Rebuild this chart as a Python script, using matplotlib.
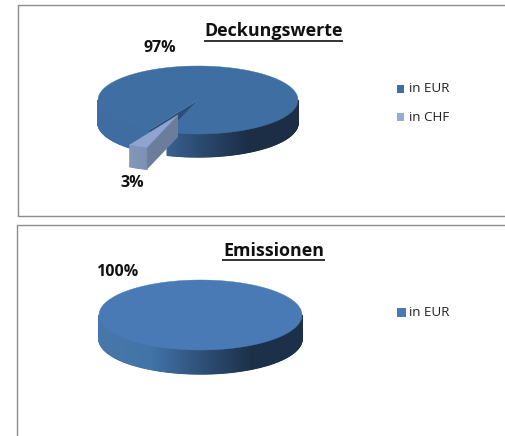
import matplotlib
matplotlib.use('Agg')
import matplotlib.pyplot as plt
import matplotlib.colors as mc
from matplotlib.patches import Polygon, Rectangle
import numpy as np

# dati dei due grafici
deck_labels = ['in EUR', 'in CHF']
deck_values = [97, 3]
emis_labels = ['in EUR']
emis_values = [100]

plt.rcParams['font.family'] = ['Open Sans', 'DejaVu Sans']


def ell(cx, cy, rx, ry, t):
    t = np.radians(t)
    return cx + rx * np.cos(t), cy + ry * np.sin(t)


def side(ax, cx, cy, rx, ry, depth, t0, t1, cmap, z):
    # parete laterale a strisce per simulare il gradiente del 3D di Excel
    ts = np.linspace(t0, t1, max(int(abs(t1 - t0)) * 2, 2) + 1)
    for a, b in zip(ts[:-1], ts[1:]):
        x0, y0 = ell(cx, cy, rx, ry, a)
        x1, y1 = ell(cx, cy, rx, ry, b)
        c = cmap(x0 / 2 + x1 / 2)
        ax.add_patch(Polygon([(x0, y0), (x1, y1), (x1, y1 + depth), (x0, y0 + depth)],
                             fc=c, ec=c, lw=0.9, zorder=z))


def top(ax, cx, cy, rx, ry, t0, t1, color, z):
    ts = np.linspace(t0, t1, 200)
    x, y = ell(cx, cy, rx, ry, ts)
    pts = list(zip(x, y))
    if abs(t1 - t0) < 360:
        pts = [(cx, cy)] + pts
    ax.add_patch(Polygon(pts, fc=color, ec=color, lw=0.3, zorder=z))


def title(ax, txt, xc, y, x0, x1, yline):
    ax.text(xc, y, txt, ha='center', va='center', fontsize=12.9, fontweight='bold', color='#111111')
    ax.plot([x0, x1], [yline, yline], color='#111111', lw=1.2, solid_capstyle='butt')


def legend(ax, labels, colors, x, ys, size):
    for lab, col, y in zip(labels, colors, ys):
        ax.add_patch(Rectangle((x, y - size / 2), size, size, fc=col, ec='none'))
        ax.text(409, y, lab, ha='left', va='center', fontsize=9.6, color='#222222')


fig = plt.figure(figsize=(5.06, 4.36), dpi=100, facecolor='white')
ax = fig.add_axes([0, 0, 1, 1])
ax.set_xlim(0, 506)
ax.set_ylim(436, 0)
ax.axis('off')

# cornici
ax.plot([506, 18, 18, 506], [5, 5, 216, 216], color='#8c8c8c', lw=1)
ax.plot([506, 17, 17], [225, 225, 436], color='#8c8c8c', lw=1)

# --- Deckungswerte ---
cx, cy, rx, ry, d = 198, 100, 100, 34, 23
side_map = mc.LinearSegmentedColormap.from_list('s', ['#3f6da2', '#3f6da2', '#2c4b72', '#1b2e46', '#1b2e46'])
cm1 = lambda x: side_map((x - 98) / 200)

t_start = 108
t_end = t_start + deck_values[1] / sum(deck_values) * 360

side(ax, cx, cy, rx, ry, d, 0, t_start, cm1, 1)
side(ax, cx, cy, rx, ry, d, t_end, 180, cm1, 1)
xe, ye = ell(cx, cy, rx, ry, t_end)
ax.add_patch(Polygon([(cx, cy), (xe, ye), (xe, ye + d), (cx, cy + d)], fc='#2c4d75', ec='none', zorder=2))
top(ax, cx, cy, rx, ry, t_end, t_start + 360, '#3f6ea3', 3)

# fetta CHF staccata
ox, oy = -20, 15
sx, sy = cx + ox, cy + oy
sd = 22
sl_map = mc.LinearSegmentedColormap.from_list('c', ['#8397bb', '#7d90b2'])
side(ax, sx, sy, rx, ry, sd, t_start, t_end, lambda x: sl_map((x - 128) / 20), 4)
xa, ya = ell(sx, sy, rx, ry, t_start)
ax.add_patch(Polygon([(sx, sy), (xa, ya), (xa, ya + sd), (sx, sy + sd)], fc='#6c7d9b', ec='none', zorder=4))
top(ax, sx, sy, rx, ry, t_start, t_end, '#8fa4d0', 5)

ax.text(160, 48, '97%', ha='center', va='center', fontsize=11.5, fontweight='bold', color='#111111')
ax.text(132, 183, '3%', ha='center', va='center', fontsize=11.5, fontweight='bold', color='#111111')
title(ax, 'Deckungswerte', 273.5, 30.5, 204, 343, 41)
legend(ax, deck_labels, ['#3f6ea3', '#98a9d3'], 397, [89, 117], 7.5)

# --- Emissionen ---
cx2, cy2, rx2, ry2, d2 = 200.5, 315, 101.5, 35, 24
side_map2 = mc.LinearSegmentedColormap.from_list('s2', ['#4776aa', '#4274a8', '#2f5078', '#1c3049', '#1c3049'])
cm2 = lambda x: side_map2((x - 99) / 203)
side(ax, cx2, cy2, rx2, ry2, d2, 0, 180, cm2, 1)
top(ax, cx2, cy2, rx2, ry2, 0, 360, '#4a7ab5', 3)

ax.text(117, 272, '100%', ha='center', va='center', fontsize=11.5, fontweight='bold', color='#111111')
title(ax, 'Emissionen', 273.5, 250.5, 222, 325, 259.5)
legend(ax, emis_labels, ['#4a7ab5'], 397, [312], 9)

plt.savefig('out.png', dpi=100)
